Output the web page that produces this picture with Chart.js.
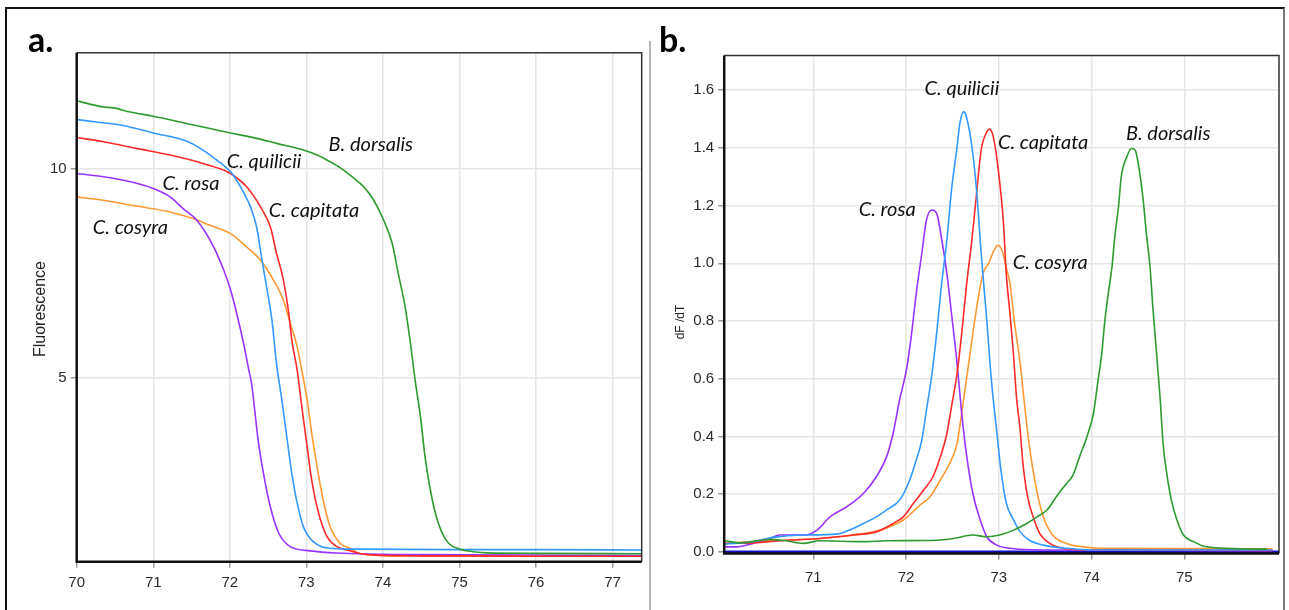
<!DOCTYPE html>
<html>
<head>
<meta charset="utf-8">
<script src="https://cdn.jsdelivr.net/npm/chart.js@4.4.1/dist/chart.umd.min.js"></script>
<style>
  html, body { margin: 0; padding: 0; background: #fff; }
  #fig { position: relative; width: 1289px; height: 610px; overflow: hidden; background: #fff; }
  .frame { position: absolute; left: 5px; top: 7px; width: 1276px; height: 640px;
           border-top: 2px solid #111; border-left: 2px solid #111; border-right: 2px solid #777; }
  .divider { position: absolute; left: 649px; top: 41px; width: 2px; height: 580px; background: #b5b5b5; }
  canvas { position: absolute; top: 0; }
</style>
</head>
<body>
<div id="fig">
  <div class="frame"></div>
  <div class="divider"></div>
  <canvas id="meltChart" style="left:0"></canvas>
  <canvas id="derivChart" style="left:650px"></canvas>
</div>
<script>
// ---- panel a: melt curves (temperature, fluorescence) ----
const dorsalisMelt = [[70.0,11.62],[70.17,11.54],[70.35,11.47],[70.48,11.45],[70.70,11.35],[71.0,11.25],[71.35,11.11],[71.65,10.99],[72.01,10.85],[72.35,10.72],[72.61,10.60],[72.96,10.44],[73.14,10.32],[73.31,10.16],[73.44,10.02],[73.60,9.80],[73.75,9.56],[73.88,9.24],[74.01,8.76],[74.12,8.21],[74.20,7.49],[74.29,6.69],[74.36,5.81],[74.42,4.94],[74.49,4.06],[74.55,3.10],[74.62,2.30],[74.71,1.59],[74.84,1.07],[75.01,0.89],[75.18,0.83],[75.36,0.80],[76.0,0.79],[77.38,0.78]];
const quiliciiMelt = [[70.0,11.17],[70.26,11.11],[70.57,11.04],[71.0,10.85],[71.44,10.65],[71.65,10.44],[71.83,10.20],[72.01,9.92],[72.14,9.56],[72.27,9.08],[72.35,8.60],[72.42,7.81],[72.48,7.17],[72.55,6.37],[72.61,5.33],[72.68,4.46],[72.75,3.50],[72.81,2.70],[72.88,1.99],[72.96,1.43],[73.09,1.07],[73.31,0.91],[73.57,0.89],[75.0,0.88],[76.1,0.88],[77.38,0.87]];
const capitataMelt = [[70.0,10.74],[70.35,10.64],[70.78,10.48],[71.22,10.32],[71.65,10.12],[71.92,9.96],[72.01,9.88],[72.22,9.56],[72.40,9.08],[72.53,8.60],[72.61,7.97],[72.70,7.33],[72.77,6.53],[72.81,5.89],[72.88,5.17],[72.94,4.30],[73.01,3.34],[73.07,2.54],[73.16,1.75],[73.27,1.19],[73.40,0.95],[73.57,0.85],[73.8,0.76],[74.5,0.73],[77.38,0.72]];
const rosaMelt = [[70.0,9.88],[70.35,9.80],[70.70,9.68],[71.0,9.52],[71.22,9.32],[71.39,9.04],[71.57,8.76],[71.79,8.12],[71.92,7.57],[72.01,7.09],[72.09,6.53],[72.18,5.81],[72.24,5.25],[72.29,4.78],[72.33,4.14],[72.37,3.50],[72.44,2.70],[72.53,1.90],[72.64,1.27],[72.79,0.95],[73.05,0.85],[73.40,0.80],[74.5,0.76],[77.38,0.74]];
const cosyraMelt = [[70.0,9.32],[70.35,9.24],[70.78,9.10],[71.22,8.96],[71.52,8.80],[71.74,8.64],[72.01,8.44],[72.22,8.12],[72.40,7.81],[72.57,7.33],[72.70,6.85],[72.79,6.29],[72.88,5.73],[72.94,5.17],[73.01,4.46],[73.07,3.66],[73.14,2.86],[73.22,2.06],[73.31,1.43],[73.44,1.03],[73.57,0.91],[73.7,0.78],[74.2,0.73],[77.38,0.72]];

// ---- panel b: derivative curves (temperature, dF/dT) ----
const dorsalisDeriv = [[70.05,0.038],[70.21,0.031],[70.43,0.040],[70.53,0.043],[70.71,0.038],[70.89,0.029],[71.07,0.038],[71.54,0.035],[71.79,0.038],[72.33,0.040],[72.51,0.046],[72.72,0.058],[72.87,0.052],[73.01,0.058],[73.16,0.075],[73.30,0.098],[73.41,0.121],[73.52,0.145],[73.62,0.191],[73.73,0.237],[73.80,0.266],[73.87,0.329],[73.95,0.399],[74.02,0.480],[74.07,0.595],[74.11,0.688],[74.14,0.792],[74.18,0.896],[74.22,0.988],[74.25,1.092],[74.29,1.196],[74.32,1.300],[74.38,1.369],[74.43,1.398],[74.47,1.392],[74.52,1.311],[74.56,1.207],[74.59,1.104],[74.63,0.988],[74.66,0.849],[74.70,0.688],[74.74,0.526],[74.77,0.376],[74.81,0.272],[74.86,0.179],[74.92,0.110],[74.99,0.058],[75.10,0.035],[75.20,0.020],[75.45,0.012],[75.89,0.009]];
const quiliciiDeriv = [[70.05,0.027],[70.35,0.035],[70.57,0.050],[70.89,0.058],[71.25,0.061],[71.43,0.081],[71.54,0.098],[71.68,0.121],[71.79,0.145],[71.93,0.179],[72.04,0.249],[72.11,0.318],[72.17,0.387],[72.22,0.491],[72.28,0.618],[72.33,0.757],[72.38,0.919],[72.44,1.081],[72.49,1.254],[72.55,1.404],[72.58,1.485],[72.62,1.525],[72.65,1.508],[72.71,1.404],[72.76,1.254],[72.81,1.034],[72.87,0.803],[72.92,0.595],[72.98,0.410],[73.02,0.290],[73.08,0.170],[73.16,0.110],[73.23,0.069],[73.33,0.040],[73.48,0.023],[73.73,0.012],[74.02,0.006],[75.95,0.006]];
const capitataDeriv = [[70.05,0.029],[70.35,0.031],[70.71,0.040],[71.07,0.046],[71.43,0.058],[71.68,0.069],[71.86,0.098],[71.97,0.121],[72.08,0.168],[72.19,0.214],[72.29,0.260],[72.37,0.329],[72.44,0.410],[72.49,0.503],[72.55,0.618],[72.60,0.757],[72.65,0.919],[72.71,1.081],[72.76,1.242],[72.81,1.393],[72.87,1.455],[72.90,1.465],[72.94,1.439],[72.99,1.335],[73.05,1.140],[73.08,0.965],[73.12,0.826],[73.16,0.676],[73.19,0.538],[73.23,0.422],[73.26,0.306],[73.31,0.191],[73.37,0.121],[73.44,0.064],[73.55,0.029],[73.69,0.012],[73.94,0.006],[75.95,0.005]];
const rosaDeriv = [[70.05,0.017],[70.17,0.017],[70.35,0.029],[70.53,0.046],[70.64,0.058],[70.91,0.058],[71.04,0.075],[71.18,0.121],[71.36,0.156],[71.54,0.202],[71.68,0.260],[71.79,0.329],[71.86,0.410],[71.93,0.526],[72.01,0.641],[72.06,0.757],[72.11,0.896],[72.17,1.034],[72.22,1.150],[72.28,1.185],[72.33,1.173],[72.38,1.092],[72.44,0.965],[72.49,0.826],[72.55,0.653],[72.60,0.480],[72.65,0.341],[72.72,0.202],[72.80,0.110],[72.87,0.052],[72.98,0.023],[73.12,0.012],[73.5,0.006],[75.95,0.004]];
const cosyraDeriv = [[70.05,0.029],[70.35,0.035],[70.71,0.040],[71.07,0.046],[71.43,0.058],[71.72,0.075],[71.97,0.110],[72.15,0.162],[72.26,0.191],[72.37,0.249],[72.47,0.306],[72.55,0.376],[72.60,0.480],[72.65,0.595],[72.72,0.757],[72.78,0.884],[72.83,0.965],[72.89,1.000],[72.94,1.040],[72.99,1.062],[73.04,1.040],[73.08,0.985],[73.12,0.930],[73.17,0.792],[73.23,0.653],[73.28,0.503],[73.33,0.364],[73.40,0.226],[73.48,0.121],[73.58,0.058],[73.73,0.029],[73.91,0.017],[74.09,0.012],[75.95,0.010]];
const blankDeriv = [[70.04,0.0],[76.02,0.0]];

const species = ['B. dorsalis', 'C. quilicii', 'C. capitata', 'C. rosa', 'C. cosyra'];
const colors = ['#2f9a2f', '#3399ff', '#ff2a2a', '#9933ff', '#ff9933'];
const tickFont = { family: 'Liberation Sans, Arial, sans-serif', size: 15 };
const labelFont = 'italic 20px Lato, "Open Sans", sans-serif';
const tagFont = 'bold 34px Lato, "Open Sans", sans-serif';

function toPoints(pairs) {
  return pairs.map(p => ({ x: p[0], y: p[1] }));
}

function lineSet(label, pairs, color, width) {
  return {
    label: label,
    data: toPoints(pairs),
    borderColor: color,
    backgroundColor: color,
    borderWidth: width || 1.6,
    pointRadius: 0,
    cubicInterpolationMode: 'monotone',
    fill: false
  };
}

// draws texts: species labels in data units, panel tags / side titles in pixels
const textLayer = {
  id: 'textLayer',
  afterDatasetsDraw(chart, args, opts) {
    const ctx = chart.ctx;
    const xs = chart.scales.x, ys = chart.scales.y;
    (opts.items || []).forEach(item => {
      const px = item.data ? xs.getPixelForValue(item.x) : item.x;
      const py = item.data ? ys.getPixelForValue(item.y) : item.y;
      ctx.save();
      ctx.font = item.font;
      ctx.fillStyle = item.color || '#111';
      ctx.textAlign = item.align || 'left';
      ctx.textBaseline = item.baseline || 'middle';
      ctx.translate(px, py);
      if (item.rotate) ctx.rotate(item.rotate);
      ctx.fillText(item.text, 0, 0);
      ctx.restore();
    });
  }
};

// black box round the plot area
const plotFrame = {
  id: 'plotFrame',
  afterDatasetsDraw(chart) {
    const { left, top, right, bottom } = chart.chartArea;
    const ctx = chart.ctx;
    ctx.save();
    ctx.strokeStyle = '#333';
    ctx.lineWidth = 1.5;
    ctx.beginPath();
    ctx.moveTo(left, top); ctx.lineTo(right, top); ctx.lineTo(right, bottom);
    ctx.stroke();
    ctx.strokeStyle = '#111';
    ctx.lineWidth = 2.5;
    ctx.beginPath();
    ctx.moveTo(left, top); ctx.lineTo(left, bottom); ctx.lineTo(right, bottom);
    ctx.stroke();
    ctx.restore();
  }
};

function axis(min, max, step, extra) {
  return Object.assign({
    type: 'linear',
    min: min,
    max: max,
    border: { display: false },
    grid: { color: '#e6e6e6', lineWidth: 1.5, tickLength: 6, tickColor: '#9a9a9a', tickWidth: 1.5 },
    ticks: { stepSize: step, includeBounds: false, font: tickFont, color: '#2a2a2a', maxRotation: 0, autoSkip: false }
  }, extra);
}

function makeChart(id, w, h, datasets, scales, padding, items) {
  const canvas = document.getElementById(id);
  canvas.width = w;
  canvas.height = h;
  return new Chart(canvas.getContext('2d'), {
    type: 'line',
    data: { datasets: datasets },
    options: {
      responsive: false,
      animation: false,
      layout: { padding: padding },
      plugins: {
        legend: { display: false },
        tooltip: { enabled: false },
        textLayer: { items: items }
      },
      scales: scales
    },
    plugins: [plotFrame, textLayer]
  });
}

// ---- panel a ----
const meltSeries = [dorsalisMelt, quiliciiMelt, capitataMelt, rosaMelt, cosyraMelt];
const meltX = axis(70, 77.38, 1, { afterFit: s => { s.height = 48.3; } });
meltX.ticks.padding = 6;
const meltY = axis(0.59, 12.77, 5, { afterFit: s => { s.width = 76.7; } });
meltY.ticks.padding = 4;

makeChart('meltChart', 650, 610,
  meltSeries.map((d, i) => lineSet(species[i], d, colors[i])),
  { x: meltX, y: meltY },
  { left: 0, top: 52.7, right: 8.3, bottom: 0 },
  [
    { text: 'a.', x: 28, y: 52, font: tagFont, baseline: 'alphabetic', color: '#000' },
    { text: 'Fluorescence', x: 41, y: 309, font: '16px "Liberation Sans", Arial, sans-serif', align: 'center', rotate: -Math.PI / 2, color: '#222' },
    { text: 'B. dorsalis', data: true, x: 73.29, y: 10.58, font: labelFont },
    { text: 'C. quilicii', data: true, x: 71.96, y: 10.16, font: labelFont },
    { text: 'C. rosa', data: true, x: 71.12, y: 9.65, font: labelFont },
    { text: 'C. capitata', data: true, x: 72.51, y: 9.00, font: labelFont },
    { text: 'C. cosyra', data: true, x: 70.21, y: 8.58, font: labelFont }
  ]);

// ---- panel b ----
const derivSeries = [dorsalisDeriv, quiliciiDeriv, capitataDeriv, rosaDeriv, cosyraDeriv];
const derivX = axis(70.04, 76.02, 1, {
  afterFit: s => { s.height = 56.5; },
  afterBuildTicks: s => { s.ticks = s.ticks.filter(t => t.value >= 71 && t.value <= 75); }
});
derivX.ticks.padding = 9;
const derivY = axis(-0.006, 1.72, 0.2, { afterFit: s => { s.width = 74.2; } });
derivY.ticks.padding = 4;
derivY.ticks.callback = v => v.toFixed(1);

const derivSets = derivSeries.map((d, i) => lineSet(species[i], d, colors[i]));
derivSets.push(lineSet('blank', blankDeriv, '#1010c8', 2.5));

makeChart('derivChart', 639, 610,
  derivSets,
  { x: derivX, y: derivY },
  { left: 0, top: 55.6, right: 10, bottom: 0 },
  [
    { text: 'b.', x: 9, y: 51.5, font: tagFont, baseline: 'alphabetic', color: '#000' },
    { text: 'dF /dT', x: 31, y: 322, font: '12px "Liberation Sans", Arial, sans-serif', align: 'center', rotate: -Math.PI / 2, color: '#222' },
    { text: 'C. quilicii', data: true, x: 72.20, y: 1.605, font: labelFont },
    { text: 'C. capitata', data: true, x: 72.99, y: 1.417, font: labelFont },
    { text: 'B. dorsalis', data: true, x: 74.37, y: 1.450, font: labelFont },
    { text: 'C. rosa', data: true, x: 71.49, y: 1.188, font: labelFont },
    { text: 'C. cosyra', data: true, x: 73.15, y: 1.002, font: labelFont }
  ]);
</script>
</body>
</html>
